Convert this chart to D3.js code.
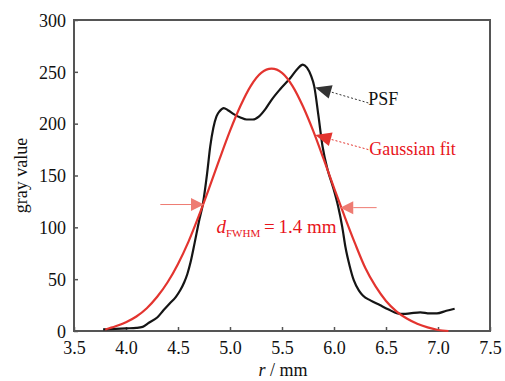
<!DOCTYPE html>
<html>
<head>
<meta charset="utf-8">
<script src="https://cdn.jsdelivr.net/npm/d3@7"></script>
<style>
  body { margin: 0; background: #fff; }
  svg text { font-family: "Liberation Serif", "Times New Roman", serif !important; }
</style>
</head>
<body>
<svg id="chart" width="505" height="381"></svg>
<script>
// PSF profile (r in mm, gray value)
var psfR = [3.78, 3.9, 4.0, 4.1, 4.16, 4.22, 4.3, 4.36, 4.42, 4.48, 4.52, 4.56, 4.59, 4.62, 4.66, 4.70,
            4.74, 4.78, 4.81, 4.84, 4.87, 4.9, 4.94, 4.98, 5.04, 5.1, 5.16, 5.22, 5.28, 5.34, 5.4, 5.48,
            5.58, 5.65, 5.70, 5.74, 5.78, 5.81, 5.85, 5.89, 5.94, 5.99, 6.04, 6.08, 6.11, 6.15, 6.19, 6.24,
            6.28, 6.35, 6.44, 6.52, 6.61, 6.67, 6.73, 6.83, 6.92, 6.99, 7.08, 7.16];
var psfV = [1.5, 2, 2.5, 3, 4, 8, 13, 20, 26.6, 33, 39, 47, 55, 66, 85, 105,
            123, 152, 178, 196, 207, 212, 215, 213, 209, 206, 204, 204, 207, 214, 223, 233,
            244, 253, 257, 254, 246, 236, 208, 178, 155, 139, 120, 100, 81, 63, 49, 39,
            34, 29.5, 25, 21, 17, 16.5, 17, 18, 17, 17, 19.5, 21.5];

// Gaussian fit
var fitR = [3.8, 3.9, 4.0, 4.1, 4.2, 4.3, 4.4, 4.5, 4.6, 4.7, 4.8, 4.9, 5.0, 5.1, 5.2, 5.3, 5.4,
            5.5, 5.6, 5.7, 5.8, 5.9, 6.0, 6.1, 6.2, 6.3, 6.4, 6.5, 6.6, 6.7, 6.8, 6.9, 7.0, 7.1];
var fitV = [1.5, 4.5, 8.5, 14, 22, 33, 47, 64.7, 86, 111, 138, 166, 193, 217, 236.5, 249, 253,
            249, 236.5, 217, 193, 166, 138, 111, 85, 61, 43, 29, 19, 12, 7, 3.5, 1, 0];

var xTicks = [3.5, 4.0, 4.5, 5.0, 5.5, 6.0, 6.5, 7.0, 7.5];
var yTicks = [0, 50, 100, 150, 200, 250, 300];

var svg = d3.select("#chart");
var margin = {left: 74, right: 15, top: 20, bottom: 50};
var W = 505, H = 381;
var serif = "'Liberation Serif', 'Times New Roman', serif";

var x = d3.scaleLinear().domain([3.5, 7.5]).range([margin.left, W - margin.right]);
var y = d3.scaleLinear().domain([0, 300]).range([H - margin.bottom, margin.top]);

var frame = "#555";

// axes
var xAxis = d3.axisBottom(x).tickValues(xTicks).tickFormat(d3.format(".1f")).tickSizeInner(-4).tickSizeOuter(0).tickPadding(10);
var yAxis = d3.axisLeft(y).tickValues(yTicks).tickFormat(d3.format("d")).tickSizeInner(-4).tickSizeOuter(0).tickPadding(8);

var gx = svg.append("g").attr("transform", "translate(0," + y(0) + ")").call(xAxis);
var gy = svg.append("g").attr("transform", "translate(" + x(3.5) + ",0)").call(yAxis);
[gx, gy].forEach(function(g) {
    g.attr("font-family", serif).attr("font-size", 18);
    g.select(".domain").remove();
    g.selectAll("line").attr("stroke", frame).attr("stroke-width", 1.5);
    g.selectAll("text").attr("fill", "#111").style("font-family", serif).style("font-size", "18px");
});
gy.selectAll("text").attr("dy", "0.35em");

// frame
svg.append("rect")
    .attr("x", x(3.5)).attr("y", y(300))
    .attr("width", x(7.5) - x(3.5)).attr("height", y(0) - y(300))
    .attr("fill", "none").attr("stroke", frame).attr("stroke-width", 2);

// axis titles
svg.append("text")
    .attr("transform", "translate(27," + ((y(0) + y(300)) / 2) + ") rotate(-90)")
    .attr("text-anchor", "middle").style("font-size", "18px").attr("fill", "#111")
    .text("gray value");

var xt = svg.append("text")
    .attr("x", (x(3.5) + x(7.5)) / 2 + 1).attr("y", 376)
    .attr("text-anchor", "middle").style("font-size", "18px").attr("fill", "#111");
xt.append("tspan").style("font-style", "italic").text("r");
xt.append("tspan").text(" / mm");

// curves
var line = d3.line()
    .x(function(d) { return x(d[0]); })
    .y(function(d) { return y(d[1]); })
    .curve(d3.curveMonotoneX);

var psf = psfR.map(function(r, i) { return [r, psfV[i]]; });
var fit = fitR.map(function(r, i) { return [r, fitV[i]]; });

svg.append("path").datum(psf)
    .attr("d", line).attr("fill", "none")
    .attr("stroke", "#151515").attr("stroke-width", 2.2);

svg.append("path").datum(fit)
    .attr("d", line).attr("fill", "none")
    .attr("stroke", "#e3342f").attr("stroke-width", 2.2);

// arrow helper: filled head at (x1,y1), pointing away from (x0,y0)
function arrow(x0, y0, x1, y1, color, dash, len, half) {
    var dx = x1 - x0, dy = y1 - y0, n = Math.sqrt(dx * dx + dy * dy);
    var ux = dx / n, uy = dy / n;
    var bx = x1 - ux * len, by = y1 - uy * len;
    svg.append("line")
        .attr("x1", x0).attr("y1", y0).attr("x2", bx).attr("y2", by)
        .attr("stroke", color).attr("stroke-width", 1)
        .attr("stroke-dasharray", dash);
    svg.append("path")
        .attr("d", "M" + x1 + "," + y1 +
            "L" + (bx - uy * half) + "," + (by + ux * half) +
            "L" + (bx + uy * half) + "," + (by - ux * half) + "Z")
        .attr("fill", color);
}

// PSF label
arrow(x(6.33), y(220), x(5.82), y(235), "#333", "2,2", 16, 7);
svg.append("text").attr("x", x(6.33)).attr("y", y(218))
    .style("font-size", "18px").attr("fill", "#111").text("PSF");

// Gaussian fit label
arrow(x(6.33), y(175), x(5.82), y(189), "#e3342f", "2,2", 16, 7);
svg.append("text").attr("x", x(6.34)).attr("y", y(170))
    .style("font-size", "18px").attr("fill", "#e8141b").text("Gaussian fit");

// FWHM arrows
arrow(x(4.33), y(122), x(4.75), y(122), "#ee7b72", null, 13, 6.5);
arrow(x(6.41), y(119), x(6.06), y(119), "#ee7b72", null, 13, 6.5);

var ft = svg.append("text").attr("x", x(4.87)).attr("y", y(95))
    .style("font-size", "19px").attr("fill", "#e8141b");
ft.append("tspan").style("font-style", "italic").text("d");
ft.append("tspan").style("font-size", "11px").attr("dy", 4).text("FWHM");
ft.append("tspan").attr("dy", -4).text("\u2009=\u20091.4 mm");
</script>
</body>
</html>
